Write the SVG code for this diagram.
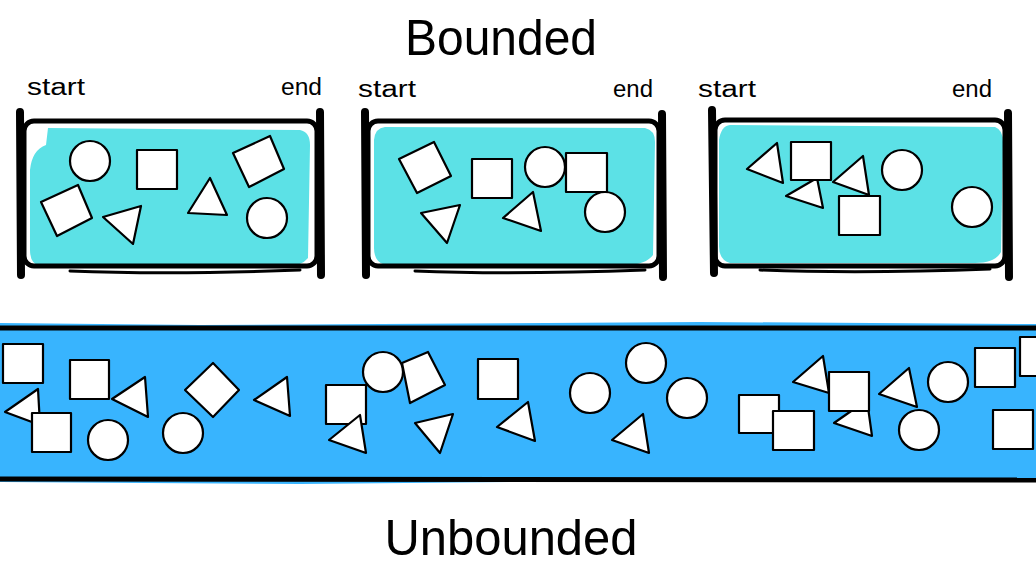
<svg xmlns="http://www.w3.org/2000/svg" width="1036" height="576" viewBox="0 0 1036 576">
<style>
.t{font-family:"Liberation Sans","DejaVu Sans",sans-serif;fill:#000}
.lbl{font-size:23px}
.ttl{font-size:50px}
.sh{fill:#fff;stroke:#000;stroke-width:2.2;stroke-linejoin:round}
.frame{fill:none;stroke:#000;stroke-width:5;stroke-linejoin:round}
.post{stroke:#000;stroke-width:8;stroke-linecap:round}
.sk{fill:none;stroke:#000;stroke-width:3;stroke-linecap:round}
.cy{fill:#5ce1e6}
.bl{fill:#38b4fe}
</style>
<rect width="1036" height="576" fill="#fff"/>
<text class="t ttl" x="501" y="55" text-anchor="middle" textLength="192" lengthAdjust="spacingAndGlyphs">Bounded</text>
<text class="t ttl" x="511" y="555" text-anchor="middle" textLength="253" lengthAdjust="spacingAndGlyphs">Unbounded</text>

<g id="box1">
<path class="cy" d="M48,128 L300,130 Q310,132 310,145 L308,258 Q300,268 280,266 L40,266 Q30,264 30,250 L30,170 Q32,150 46,145 Z"/>
<rect class="frame" x="24" y="121" width="293" height="145" rx="10"/>
<path class="sk" d="M70,271 Q170,275 300,270"/>
<line class="post" x1="20" y1="112" x2="21" y2="275"/>
<line class="post" x1="320" y1="112" x2="321" y2="275"/>
<text class="t lbl" x="27" y="95" textLength="58" lengthAdjust="spacingAndGlyphs">start</text>
<text class="t lbl" x="281" y="95" textLength="41" lengthAdjust="spacingAndGlyphs">end</text>
<circle class="sh" cx="90" cy="161" r="20"/>
<rect class="sh" x="137" y="150" width="40" height="39"/>
<polygon class="sh" points="41,202 78,185 92,218 57,236"/>
<polygon class="sh" points="103,217 141,206 133,244"/>
<polygon class="sh" points="188,213 210,178 227,215"/>
<polygon class="sh" points="233,153 270,136 284,169 249,187"/>
<circle class="sh" cx="267" cy="218" r="20"/>
</g>

<g id="box2">
<path class="cy" d="M385,127 L645,128 Q655,130 655,142 L653,255 Q645,266 620,265 L385,265 Q374,262 374,248 L374,140 Q375,128 385,127 Z"/>
<rect class="frame" x="368" y="121" width="291" height="145" rx="10"/>
<path class="sk" d="M415,271 Q510,275 645,270"/>
<line class="post" x1="365" y1="112" x2="366" y2="275"/>
<line class="post" x1="662" y1="114" x2="663" y2="277"/>
<text class="t lbl" x="358" y="97" textLength="58" lengthAdjust="spacingAndGlyphs">start</text>
<text class="t lbl" x="613" y="97" textLength="40" lengthAdjust="spacingAndGlyphs">end</text>
<polygon class="sh" points="399,159 434,142 451,176 417,193"/>
<rect class="sh" x="472" y="159" width="40" height="39"/>
<circle class="sh" cx="545" cy="167" r="20"/>
<rect class="sh" x="566" y="153" width="41" height="39"/>
<circle class="sh" cx="605" cy="212" r="20"/>
<polygon class="sh" points="421,213 460,205 447,243"/>
<polygon class="sh" points="503,218 533,192 541,231"/>
</g>

<g id="box3">
<path class="cy" d="M730,125 L995,127 Q1003,130 1003,142 L1001,252 Q995,263 975,263 L730,263 Q719,260 719,246 L719,140 Q721,126 730,125 Z"/>
<rect class="frame" x="715" y="120" width="290" height="146" rx="10"/>
<path class="sk" d="M760,270 Q860,274 990,269"/>
<line class="post" x1="712" y1="110" x2="714" y2="273"/>
<line class="post" x1="1008" y1="113" x2="1009" y2="277"/>
<text class="t lbl" x="698" y="97" textLength="58" lengthAdjust="spacingAndGlyphs">start</text>
<text class="t lbl" x="952" y="97" textLength="40" lengthAdjust="spacingAndGlyphs">end</text>
<polygon class="sh" points="747,169 777,143 783,183"/>
<polygon class="sh" points="786,196 817,178 823,208"/>
<rect class="sh" x="791" y="142" width="40" height="38"/>
<polygon class="sh" points="833,182 863,156 869,195"/>
<rect class="sh" x="839" y="196" width="41" height="39"/>
<circle class="sh" cx="902" cy="170" r="20"/>
<circle class="sh" cx="972" cy="207" r="20"/>
</g>

<g id="strip">
<path class="bl" d="M0,323 L200,325 L700,322 L1036,324 L1036,482 L600,481 L300,484 L0,482 Z"/>
<line x1="0" y1="328" x2="1036" y2="328" stroke="#000" stroke-width="5"/>
<line x1="0" y1="479" x2="1036" y2="480" stroke="#000" stroke-width="5"/>
<rect class="sh" x="3" y="344" width="40" height="39"/>
<rect class="sh" x="70" y="360" width="39" height="39"/>
<polygon class="sh" points="112,399 145,377 148,417"/>
<polygon class="sh" points="185,390 213,363 239,390 213,417"/>
<polygon class="sh" points="254,400 287,377 290,416"/>
<polygon class="sh" points="5,412 38,389 40,425"/>
<rect class="sh" x="32" y="413" width="39" height="39"/>
<circle class="sh" cx="108" cy="440" r="20"/>
<circle class="sh" cx="183" cy="433" r="20"/>
<rect class="sh" x="326" y="385" width="40" height="39"/>
<polygon class="sh" points="329,440 360,415 366,453"/>
<circle class="sh" cx="383" cy="372" r="20"/>
<polygon class="sh" points="402,363 428,352 445,385 410,403"/>
<rect class="sh" x="478" y="359" width="40" height="40"/>
<polygon class="sh" points="415,423 453,414 440,453"/>
<polygon class="sh" points="497,427 528,402 535,441"/>
<circle class="sh" cx="590" cy="393" r="20"/>
<circle class="sh" cx="646" cy="363" r="20"/>
<circle class="sh" cx="687" cy="398" r="20"/>
<polygon class="sh" points="612,440 643,414 649,453"/>
<polygon class="sh" points="793,382 823,356 829,393"/>
<polygon class="sh" points="834,423 867,400 872,436"/>
<rect class="sh" x="829" y="372" width="40" height="39"/>
<rect class="sh" x="739" y="395" width="40" height="38"/>
<rect class="sh" x="773" y="411" width="41" height="39"/>
<polygon class="sh" points="879,394 909,368 917,407"/>
<circle class="sh" cx="919" cy="430" r="20"/>
<circle class="sh" cx="948" cy="382" r="20"/>
<rect class="sh" x="975" y="348" width="40" height="39"/>
<rect class="sh" x="1020" y="337" width="40" height="39"/>
<rect class="sh" x="993" y="410" width="40" height="39"/>
</g>
</svg>
